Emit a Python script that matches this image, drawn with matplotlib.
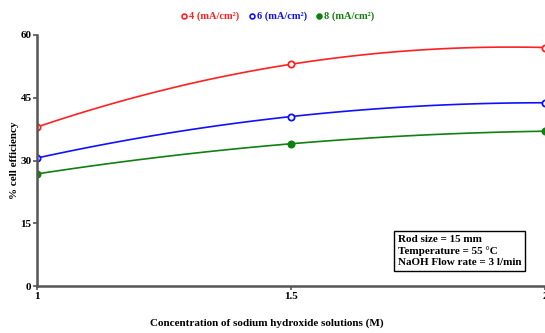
import numpy as np
import matplotlib.pyplot as plt

plt.rcParams['font.family'] = ['Liberation Serif', 'DejaVu Serif']
plt.rcParams['font.weight'] = 'bold'

conc = [1.0, 1.5, 2.0]
labels = ['4 (mA/cm²)', '6 (mA/cm²)', '8 (mA/cm²)']
eff_4 = [38.0, 53.0, 57.0]
eff_6 = [30.6, 40.5, 43.8]
eff_8 = [26.8, 34.0, 37.0]
colors = ['#ff2020', '#1010ff', '#108010']
series = [eff_4, eff_6, eff_8]
fills = ['white', 'white', '#108010']

fig = plt.figure(figsize=(5.45, 3.33), dpi=100)
ax = fig.add_axes([0.068, 0.141, 0.932, 0.754])

xs = np.linspace(1, 2, 100)
handles = []
for y, c, fc, lab in zip(series, colors, fills, labels):
    # smooth line through the points
    p = np.polyfit(conc, y, 2)
    ax.plot(xs, np.polyval(p, xs), color=c, lw=1.2)
    ax.plot(conc, y, 'o', ms=4.5, mfc=fc, mec=c, mew=1.3)
    h, = ax.plot([], [], 'o', ms=3.5, mfc=fc, mec=c, mew=1.2, label=lab)
    handles.append(h)

ax.set_xlim(1, 2)
ax.set_ylim(0, 60)
ax.set_yticks([0, 15, 30, 45, 60])
ax.set_xticks([1, 1.5, 2])
ax.set_xticklabels(['1', '1.5', '2'])
for s in ['top', 'right']:
    ax.spines[s].set_visible(False)
for s in ['left', 'bottom']:
    ax.spines[s].set_color('#555555')
    ax.spines[s].set_linewidth(1.8)
ax.tick_params(colors='#555555', labelcolor='black', labelsize=8, length=3, width=1.2, pad=1)
ax.set_ylabel('% cell efficiency', fontsize=8, fontweight='bold', labelpad=1)

fig.text(0.49, 0.03, 'Concentration of sodium hydroxide solutions (M)', ha='center', va='center',
         fontsize=8, fontweight='bold')

leg = fig.legend(handles=handles, loc='center', bbox_to_anchor=(0.51, 0.95), ncol=3, frameon=False,
                 fontsize=7.5, handlelength=0.5, handletextpad=0.25, columnspacing=0.9)
for t, c in zip(leg.get_texts(), colors):
    t.set_color(c)

ax.text(0.71, 0.205, 'Rod size = 15 mm\nTemperature = 55 °C\nNaOH Flow rate = 3 l/min',
        transform=ax.transAxes, fontsize=8, fontweight='bold', va='top', ha='left', linespacing=1.3,
        bbox=dict(boxstyle='square,pad=0.35', fc='white', ec='black', lw=1))

fig.savefig('out.png', dpi=100)
